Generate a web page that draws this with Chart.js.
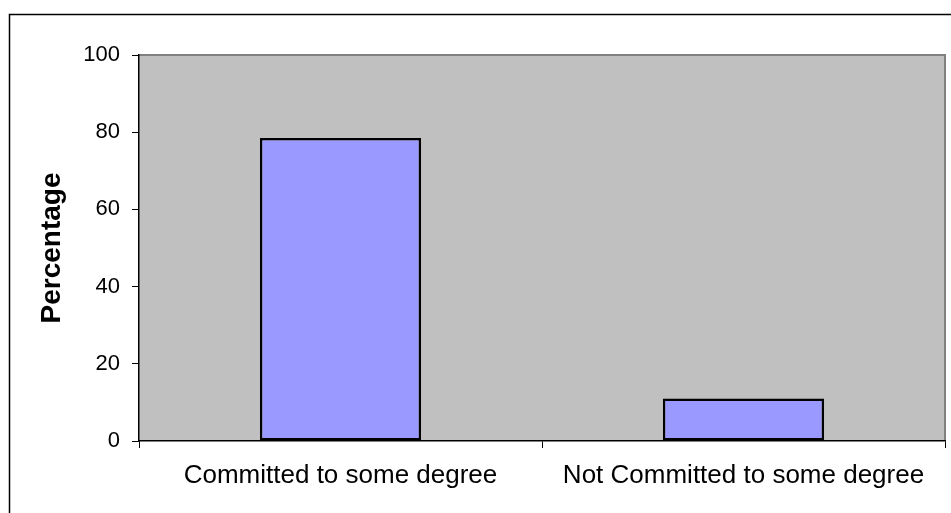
<!DOCTYPE html>
<html>
<head>
<meta charset="utf-8">
<script src="https://cdn.jsdelivr.net/npm/chart.js@4"></script>
<style>
  html, body { margin: 0; padding: 0; background: #fff; }
  #wrap { position: relative; width: 951px; height: 513px; }
</style>
</head>
<body>
<div id="wrap"><canvas id="chart" width="951" height="513"></canvas></div>
<script>
const categories = ['Committed to some degree', 'Not Committed to some degree'];
const percentages = [78.5, 11];
const yTicks = [0, 20, 40, 60, 80, 100];

// background, outer frame, grey plot area with its frame
const frame = {
    id: 'frame',
    beforeDraw(chart) {
        const ctx = chart.ctx;
        const a = chart.chartArea;
        ctx.save();
        ctx.fillStyle = '#ffffff';
        ctx.fillRect(0, 0, chart.width, chart.height);
        ctx.strokeStyle = '#000000';
        ctx.lineWidth = 1.5;
        ctx.strokeRect(9.5, 14.5, chart.width + 20, chart.height + 20);
        ctx.fillStyle = '#c0c0c0';
        ctx.fillRect(a.left, a.top, a.right - a.left, a.bottom - a.top);
        ctx.strokeStyle = '#808080';
        ctx.lineWidth = 2;
        ctx.beginPath();
        ctx.moveTo(a.left, a.top);
        ctx.lineTo(a.right, a.top);
        ctx.lineTo(a.right, a.bottom);
        ctx.stroke();
        ctx.restore();
    }
};

new Chart(document.getElementById('chart').getContext('2d'), {
    type: 'bar',
    data: {
        labels: categories,
        datasets: [{
            data: percentages,
            backgroundColor: '#9999ff',
            borderColor: '#000000',
            borderWidth: 2.5,
            borderSkipped: false,
            barPercentage: 0.4,
            categoryPercentage: 1.0
        }]
    },
    options: {
        responsive: false,
        animation: false,
        layout: { padding: { left: 0, top: 55, right: 6, bottom: 0 } },
        plugins: { legend: { display: false }, tooltip: { enabled: false } },
        scales: {
            x: {
                afterFit: s => { s.height = 72; },
                grid: { drawOnChartArea: false, drawTicks: true, tickLength: 7, color: '#000000', offset: true },
                border: { color: '#000000', width: 1.5 },
                ticks: { color: '#000000', padding: 12, maxRotation: 0, font: { family: 'Liberation Sans, Arial', size: 26 } }
            },
            y: {
                min: 0,
                max: 100,
                afterFit: s => { s.width = 139; },
                afterBuildTicks: s => { s.ticks = yTicks.map(v => ({ value: v })); },
                grid: { drawOnChartArea: false, drawTicks: true, tickLength: 7, color: '#000000' },
                border: { color: '#000000', width: 1.5 },
                ticks: { color: '#000000', padding: 12, font: { family: 'Liberation Sans, Arial', size: 22 } },
                title: {
                    display: true,
                    text: 'Percentage',
                    color: '#000000',
                    padding: { top: 35, bottom: 0 },
                    font: { family: 'Liberation Sans, Arial', size: 28, weight: 'bold' }
                }
            }
        }
    },
    plugins: [frame]
});
</script>
</body>
</html>
